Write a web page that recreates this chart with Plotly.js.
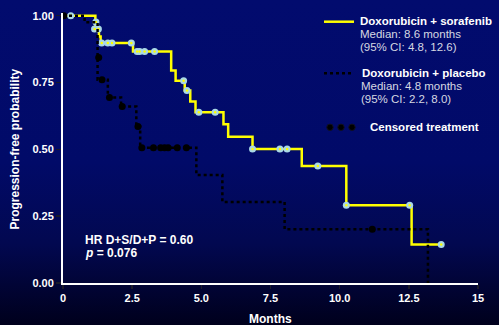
<!DOCTYPE html>
<html>
<head>
<meta charset="utf-8">
<script src="https://cdn.plot.ly/plotly-3.0.1.min.js"></script>
<style>
html, body { margin:0; padding:0; width:499px; height:325px; overflow:hidden;
  background: linear-gradient(to bottom, #020b6e 0%, #010a68 50%, #020850 75%, #00001c 100%); }
#chart { width:499px; height:325px; }
</style>
</head>
<body>
<div id="chart"></div>
<script>
// Doxorubicin + sorafenib: Kaplan-Meier steps
const sorafTime = [0, 1.17, 1.30, 1.36, 2.53, 3.91, 4.07, 4.40, 4.60, 4.79, 5.80, 5.97, 6.85, 8.63, 10.24, 12.60, 13.67];
const sorafSurv = [1.0, 0.950, 0.922, 0.898, 0.866, 0.795, 0.757, 0.720, 0.679, 0.639, 0.594, 0.547, 0.501, 0.438, 0.291, 0.144, 0.144];
// sorafenib censored
const sorafCensT = [0.28, 1.19, 1.14, 1.28, 1.40, 1.62, 1.77, 2.47, 2.68, 2.77, 2.95, 3.31, 4.36, 4.48, 4.91, 5.50, 6.85, 7.84, 8.10, 9.21, 10.24, 12.53, 13.67];
const sorafCensS = [1.0, 0.976, 0.95, 0.95, 0.898, 0.898, 0.898, 0.898, 0.866, 0.866, 0.866, 0.866, 0.757, 0.720, 0.639, 0.639, 0.501, 0.501, 0.501, 0.438, 0.291, 0.291, 0.144];

// Doxorubicin + placebo
const placTime = [0, 0.78, 1.25, 1.62, 2.10, 2.65, 2.79, 4.82, 5.76, 8.01, 13.19];
const placSurv = [1.0, 0.975, 0.76, 0.694, 0.66, 0.585, 0.506, 0.404, 0.303, 0.201, 0.0];
const placCensT = [0.03, 1.29, 1.41, 1.68, 2.14, 2.71, 2.85, 3.27, 3.53, 3.67, 3.80, 4.13, 4.46, 11.18];
const placCensS = [1.0, 0.844, 0.76, 0.694, 0.66, 0.585, 0.506, 0.506, 0.506, 0.506, 0.506, 0.506, 0.506, 0.201];

const xTickVals = [0, 2.5, 5, 7.5, 10, 12.5, 15];
const xTickText = ['0', '2.5', '5.0', '7.5', '10.0', '12.5', '15'];
const yTickVals = [0, 0.25, 0.5, 0.75, 1.0];
const yTickText = ['0.00', '0.25', '0.50', '0.75', '1.00'];

const legendNames = ['Doxorubicin + sorafenib', 'Doxorubicin + placebo', 'Censored treatment'];
const legendMedians = ['Median: 8.6 months', 'Median: 4.8 months'];
const legendCIs = ['(95% CI: 4.8, 12.6)', '(95% CI: 2.2, 8.0)'];
const statsText = ['HR D+S/D+P = 0.60', '<i>p</i> = 0.076'];

const W = 499, H = 325, ML = 63, MR = 21, MT = 13, MB = 42;
const PW = W - ML - MR, PH = H - MT - MB;
const px = v => (v - ML) / PW;
const py = v => (H - MB - v) / PH;
const FONT = 'Liberation Sans, Arial, sans-serif';

const traces = [
  { x: sorafTime, y: sorafSurv, mode: 'lines', line: { shape: 'hv', color: '#ffff00', width: 2.5 }, hoverinfo: 'skip' },
  { x: sorafCensT, y: sorafCensS, mode: 'markers', marker: { symbol: 'circle', size: 7, color: '#a9d8e6' }, cliponaxis: false, hoverinfo: 'skip' },
  { x: sorafCensT, y: sorafCensS, mode: 'markers', marker: { symbol: 'circle', size: 2.5, color: '#ffff00' }, cliponaxis: false, hoverinfo: 'skip' },
  { x: placTime, y: placSurv, mode: 'lines', line: { shape: 'hv', color: '#000000', width: 2.5, dash: 'dot' }, hoverinfo: 'skip' },
  { x: placCensT, y: placCensS, mode: 'markers', marker: { symbol: 'circle', size: 7, color: '#000000' }, cliponaxis: false, hoverinfo: 'skip' }
];

const white = '#ffffff', grey = '#d6d8e2';
const ann = [];
function txt(text, x, y, opts) {
  ann.push(Object.assign({ text: text, xref: 'paper', yref: 'paper', x: px(x), y: py(y),
    xanchor: 'left', yanchor: 'middle', showarrow: false, borderpad: 0,
    font: { family: FONT, size: 12, color: white, weight: 'bold' } }, opts || {}));
}
const legBold = { family: FONT, size: 11.5, color: white, weight: 'bold' };
const legReg = { family: FONT, size: 11.5, color: grey };
txt(legendNames[0], 359, 21.5, { font: legBold });
txt(legendMedians[0], 359, 34, { font: legReg });
txt(legendCIs[0], 359, 46.7, { font: legReg });
txt(legendNames[1], 361, 73.3, { font: legBold });
txt(legendMedians[1], 360, 86, { font: legReg });
txt(legendCIs[1], 360, 98.7, { font: legReg });
txt(legendNames[2], 369, 127.3, { font: legBold });
txt(statsText[0], 84, 240);
txt(statsText[1], 84, 253);
// axis titles
txt('Months', 270.9, 319, { xanchor: 'center' });
txt('Progression-free probability', 14, 149.5, { xanchor: 'center', textangle: -90 });

const shapes = [
  { type: 'line', xref: 'paper', yref: 'paper', x0: px(324), x1: px(354), y0: py(21.7), y1: py(21.7), line: { color: '#ffff00', width: 2.5 } },
  { type: 'line', xref: 'paper', yref: 'paper', x0: px(324), x1: px(354), y0: py(73.3), y1: py(73.3), line: { color: '#000000', width: 2.5, dash: 'dot' } }
];
[330, 341, 352].forEach(cx => {
  const r = 3.2;
  shapes.push({ type: 'circle', xref: 'paper', yref: 'paper', x0: px(cx - r), x1: px(cx + r), y0: py(127.3 + r), y1: py(127.3 - r),
    fillcolor: '#000000', line: { color: '#111122', width: 1 } });
});

const layout = {
  width: W, height: H,
  margin: { l: ML, r: MR, t: MT, b: MB, pad: 0 },
  paper_bgcolor: 'rgba(0,0,0,0)', plot_bgcolor: 'rgba(0,0,0,0)',
  showlegend: false,
  font: { family: FONT, color: white },
  xaxis: { range: [0, 15], tickvals: xTickVals, ticktext: xTickText, showgrid: false, zeroline: false,
    showline: true, linecolor: white, linewidth: 2, ticks: 'outside', ticklen: 4, tickwidth: 1.5, tickcolor: '#1a1a2a',
    tickfont: { family: FONT, size: 11, color: white, weight: 'bold' }, fixedrange: true },
  yaxis: { range: [0, 1.01], tickvals: yTickVals, ticktext: yTickText, showgrid: false, zeroline: false,
    showline: true, linecolor: white, linewidth: 2, ticks: 'outside', ticklen: 5, tickwidth: 1.5, tickcolor: '#1a1a2a',
    tickfont: { family: FONT, size: 11, color: white, weight: 'bold' }, fixedrange: true },
  annotations: ann,
  shapes: shapes
};

Plotly.newPlot('chart', traces, layout, { displayModeBar: false, staticPlot: true });
</script>
</body>
</html>
